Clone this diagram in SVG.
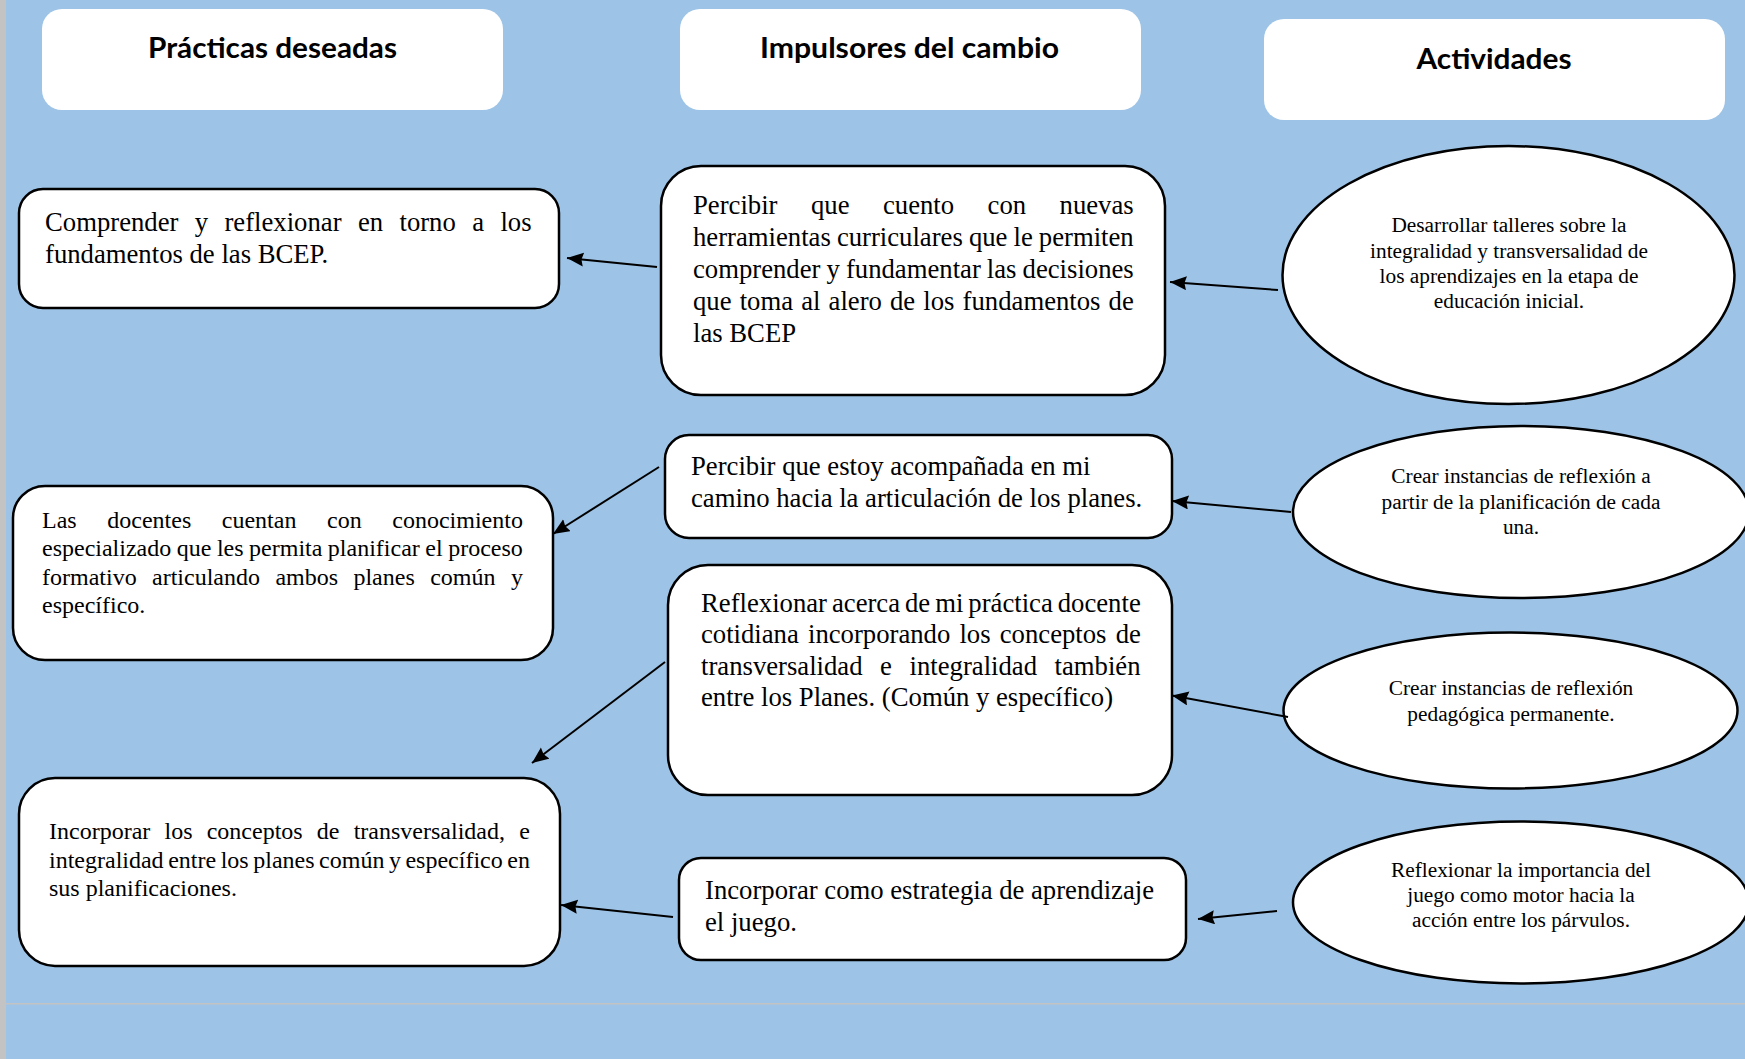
<svg xmlns="http://www.w3.org/2000/svg" width="1745" height="1059" viewBox="0 0 1745 1059">
<style>
.bg{fill:#9DC3E6}
.hdr{fill:#ffffff}
.hdrt{font-family:Lato,"Liberation Sans",sans-serif;font-weight:bold;font-size:29px;text-anchor:middle;fill:#000}
.box{fill:#ffffff;stroke:#000;stroke-width:2.5}
.t{font-family:"Liberation Serif","Times New Roman",serif;fill:#000}
.t20{font-size:26.7px}
.t18{font-size:24px}
.t16{font-size:21.33px;text-anchor:middle}
.conn{stroke:#000;stroke-width:2;fill:none;marker-end:url(#ah)}
</style>
<defs>
<marker id="ah" markerUnits="userSpaceOnUse" markerWidth="18" markerHeight="15" refX="16.5" refY="7" orient="auto">
<path d="M0,0 L16.5,7 L0,14 L2,7 z" fill="#000"/>
</marker>
</defs>
<rect class="bg" x="0" y="0" width="1745" height="1059"/>
<rect x="0" y="0" width="6" height="1059" fill="#c3c3c3"/>
<rect x="6" y="1003" width="1739" height="1.5" fill="#c3c3c3"/>

<g id="header-practicas">
<rect class="hdr" x="42" y="9" width="461" height="101" rx="20"/>
<text class="hdrt" x="272.5" y="58" textLength="249" lengthAdjust="spacingAndGlyphs">Prácticas deseadas</text>
</g>
<g id="header-impulsores">
<rect class="hdr" x="680" y="9" width="461" height="101" rx="20"/>
<text class="hdrt" x="909.5" y="58" textLength="299" lengthAdjust="spacingAndGlyphs">Impulsores del cambio</text>
</g>
<g id="header-actividades">
<rect class="hdr" x="1264" y="19" width="461" height="101" rx="20"/>
<text class="hdrt" x="1494" y="69" textLength="155" lengthAdjust="spacingAndGlyphs">Actividades</text>
</g>

<g id="practica-1">
<rect class="box" x="19" y="189" width="540" height="119" rx="24"/>
<text class="t t20" x="45" y="231" word-spacing="9.7">Comprender y reflexionar en torno a los</text>
<text class="t t20" x="45" y="263">fundamentos de las BCEP.</text>
</g>
<g id="practica-2">
<rect class="box" x="13" y="486" width="540" height="174" rx="32"/>
<text class="t t18" x="42" y="527.5" word-spacing="24.6">Las docentes cuentan con conocimiento</text>
<text class="t t18" x="42" y="556" word-spacing="-0.5">especializado que les permita planificar el proceso</text>
<text class="t t18" x="42" y="584.5" word-spacing="9.4">formativo articulando ambos planes común y</text>
<text class="t t18" x="42" y="613">específico.</text>
</g>
<g id="practica-3">
<rect class="box" x="19" y="778" width="541" height="188" rx="36"/>
<text class="t t18" x="49" y="839" word-spacing="8.2">Incorporar los conceptos de transversalidad, e</text>
<text class="t t18" x="49" y="867.5" word-spacing="-1.46">integralidad entre los planes común y específico en</text>
<text class="t t18" x="49" y="896">sus planificaciones.</text>
</g>

<g id="impulsor-1">
<rect class="box" x="661" y="166" width="504" height="229" rx="40"/>
<text class="t t20" x="693" y="213.5" word-spacing="26.8">Percibir que cuento con nuevas</text>
<text class="t t20" x="693" y="245.5" word-spacing="-0.6">herramientas curriculares que le permiten</text>
<text class="t t20" x="693" y="277.5" word-spacing="-0.6">comprender y fundamentar las decisiones</text>
<text class="t t20" x="693" y="309.5" word-spacing="1.46">que toma al alero de los fundamentos de</text>
<text class="t t20" x="693" y="341.5">las BCEP</text>
</g>
<g id="impulsor-2">
<rect class="box" x="665" y="435" width="507" height="103" rx="24"/>
<text class="t t20" x="691" y="475">Percibir que estoy acompañada en mi</text>
<text class="t t20" x="691" y="507">camino hacia la articulación de los planes.</text>
</g>
<g id="impulsor-3">
<rect class="box" x="668" y="565" width="504" height="230" rx="40"/>
<text class="t t20" x="701" y="611.5" word-spacing="-1.7">Reflexionar acerca de mi práctica docente</text>
<text class="t t20" x="701" y="643" word-spacing="2.5">cotidiana incorporando los conceptos de</text>
<text class="t t20" x="701" y="674.5" word-spacing="10.9">transversalidad e integralidad también</text>
<text class="t t20" x="701" y="706">entre los Planes. (Común y específico)</text>
</g>
<g id="impulsor-4">
<rect class="box" x="679" y="858" width="507" height="102" rx="22"/>
<text class="t t20" x="705" y="898.5">Incorporar como estrategia de aprendizaje</text>
<text class="t t20" x="705" y="930.5">el juego.</text>
</g>

<g id="actividad-1">
<ellipse class="box" cx="1508.5" cy="275" rx="226" ry="129"/>
<text class="t t16" x="1509" y="232">Desarrollar talleres sobre la</text>
<text class="t t16" x="1509" y="257.5">integralidad y transversalidad de</text>
<text class="t t16" x="1509" y="283">los aprendizajes en la etapa de</text>
<text class="t t16" x="1509" y="308">educación inicial.</text>
</g>
<g id="actividad-2">
<ellipse class="box" cx="1521" cy="512" rx="228" ry="86"/>
<text class="t t16" x="1521" y="483">Crear instancias de reflexión a</text>
<text class="t t16" x="1521" y="508.5">partir de la planificación de cada</text>
<text class="t t16" x="1521" y="534">una.</text>
</g>
<g id="actividad-3">
<ellipse class="box" cx="1510.5" cy="710.5" rx="227" ry="78"/>
<text class="t t16" x="1511" y="694.5">Crear instancias de reflexión</text>
<text class="t t16" x="1511" y="720.5">pedagógica permanente.</text>
</g>
<g id="actividad-4">
<ellipse class="box" cx="1521" cy="902.5" rx="228" ry="81"/>
<text class="t t16" x="1521" y="877">Reflexionar la importancia del</text>
<text class="t t16" x="1521" y="902">juego como motor hacia la</text>
<text class="t t16" x="1521" y="927">acción entre los párvulos.</text>
</g>

<g id="connectors">
<line class="conn" x1="657" y1="267" x2="567" y2="258"/>
<line class="conn" x1="1278" y1="290" x2="1170" y2="282"/>
<line class="conn" x1="659" y1="467" x2="553" y2="534"/>
<line class="conn" x1="1291" y1="512" x2="1172" y2="501"/>
<line class="conn" x1="665" y1="662" x2="532" y2="763"/>
<line class="conn" x1="1288" y1="717" x2="1172" y2="695.5"/>
<line class="conn" x1="673" y1="917" x2="561" y2="905"/>
<line class="conn" x1="1277" y1="911" x2="1198" y2="919"/>
</g>
</svg>
